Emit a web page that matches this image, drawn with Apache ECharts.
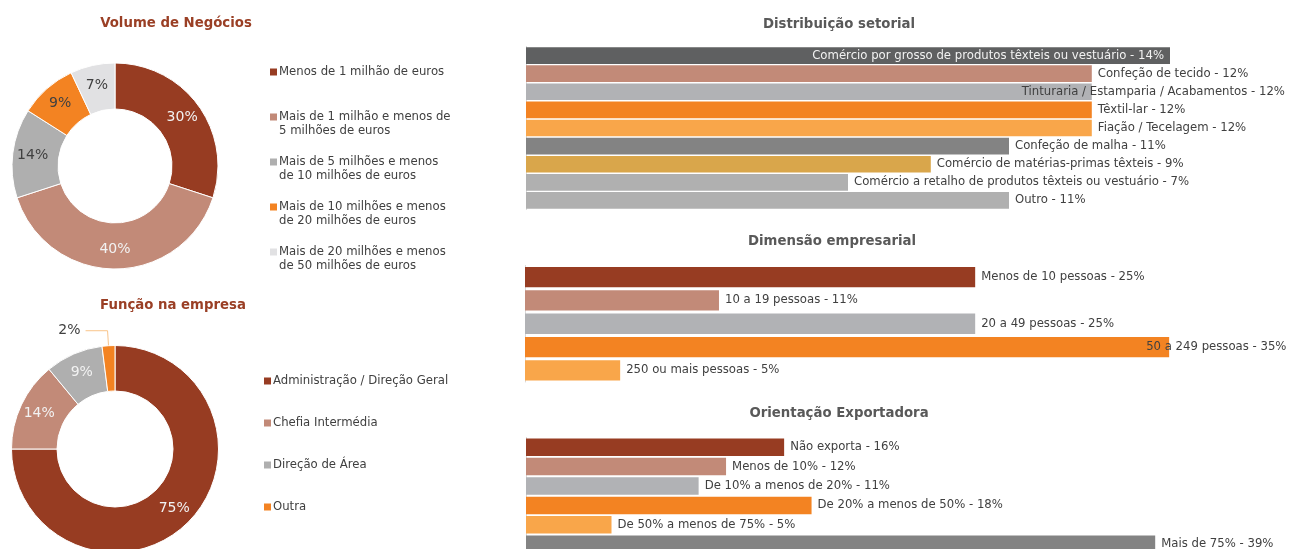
<!DOCTYPE html>
<html><head><meta charset="utf-8">
<script src="https://cdn.jsdelivr.net/npm/echarts@6/dist/echarts.min.js"></script>
<style>html,body{margin:0;padding:0;background:#fff}#c{width:1290px;height:549px}</style>
</head><body><div id="c"></div>
<script>
// ---------- DATA ----------
const volumeCategories = ['Menos de 1 milhão de euros', 'Mais de 1 milhão e menos de 5 milhões de euros', 'Mais de 5 milhões e menos de 10 milhões de euros', 'Mais de 10 milhões e menos de 20 milhões de euros', 'Mais de 20 milhões e menos de 50 milhões de euros'];
const volumeLegendLabels = ['Menos de 1 milhão de euros', 'Mais de 1 milhão e menos de\n5 milhões de euros', 'Mais de 5 milhões e menos\nde 10 milhões de euros', 'Mais de 10 milhões e menos\nde 20 milhões de euros', 'Mais de 20 milhões e menos\nde 50 milhões de euros'];
const volumeValues = [30, 40, 14, 9, 7];

const funcaoCategories = ['Administração / Direção Geral', 'Chefia Intermédia', 'Direção de Área', 'Outra'];
const funcaoValues = [75, 14, 9, 2];

const setorCategories = ['Comércio por grosso de produtos têxteis ou vestuário', 'Confeção de tecido', 'Tinturaria / Estamparia / Acabamentos', 'Têxtil-lar', 'Fiação / Tecelagem', 'Confeção de malha', 'Comércio de matérias-primas têxteis', 'Comércio a retalho de produtos têxteis ou vestuário', 'Outro'];
const setorValues = [14.0, 12.3, 12.3, 12.3, 12.3, 10.5, 8.8, 7.0, 10.5];

const dimensaoCategories = ['Menos de 10 pessoas', '10 a 19 pessoas', '20 a 49 pessoas', '50 a 249 pessoas', '250 ou mais pessoas'];
const dimensaoValues = [24.6, 10.6, 24.6, 35.2, 5.2];

const exportCategories = ['Não exporta', 'Menos de 10%', 'De 10% a menos de 20%', 'De 20% a menos de 50%', 'De 50% a menos de 75%', 'Mais de 75%'];
const exportValues = [16.0, 12.4, 10.7, 17.7, 5.3, 39.0];

// ---------- STYLE ----------
const FONT = 'Verdana, "DejaVu Sans", sans-serif';
const TXT = '#404040';
const FS = 11.7;
const C = {
  brown: '#973C22', rose: '#C28A78', grey: '#B1B2B5', orange: '#F38322', lightOrange: '#F9A64A',
  lightGrey: '#E1E1E3', dark: '#5F6061', mid: '#838383', gold: '#D9A64B', grey2: '#B0B0B0', pieGrey: '#AFAFAF'
};
const volumeColors = [C.brown, C.rose, C.pieGrey, C.orange, C.lightGrey];
const volumeLabelColors = ['#F2F2F2', '#F2F2F2', TXT, TXT, TXT];
const funcaoColors = [C.brown, C.rose, C.pieGrey, C.orange];
const setorColors = [C.dark, C.rose, C.grey, C.orange, C.lightOrange, C.mid, C.gold, C.grey2, C.grey2];
const dimensaoColors = [C.brown, C.rose, C.grey, C.orange, C.lightOrange];
const exportColors = [C.brown, C.rose, C.grey, C.orange, C.lightOrange, C.mid];

const chart = echarts.init(document.getElementById('c'), null, {renderer: 'canvas'});

function titleAt(text, x, y, color) {
  return {text, left: x, top: y, textAlign: 'center', padding: 0,
    textStyle: {fontFamily: FONT, fontSize: 13.3, fontWeight: 'bold', color}};
}

const twoLineIcon = 'path://M0,0L7,0L7,7L0,7Z M0,21L0.01,21';
function legendAt(name, label, x, y) {
  const multi = label.indexOf('\n') >= 0;
  return {
    data: [name], left: x, top: y - 6, orient: 'vertical', padding: 0,
    itemWidth: 7, itemHeight: multi ? 21 : 7, icon: multi ? twoLineIcon : 'rect',
    itemStyle: {borderWidth: 0}, selectedMode: false,
    formatter: () => label,
    textStyle: {fontFamily: FONT, fontSize: FS, color: TXT, lineHeight: 14, padding: [0, 0, 0, -3]}
  };
}

const volumeLegendTops = [71, 116, 161, 206, 251];
const funcaoLegendTops = [380, 422, 464, 506];
const legends = [];
volumeCategories.forEach((n, i) => legends.push(legendAt(n, volumeLegendLabels[i], 270, volumeLegendTops[i])));
funcaoCategories.forEach((n, i) => legends.push(legendAt(n, n, 264, funcaoLegendTops[i])));

function barLabel(name, v) { return name + ' - ' + Math.round(v) + '%'; }

function barSeries(cats, vals, colors, idx, overrides, gap) {
  return {
    type: 'bar', xAxisIndex: idx, yAxisIndex: idx, barCategoryGap: gap,
    data: vals.map((v, i) => {
      const d = {value: v, name: cats[i], itemStyle: {color: colors[i]}};
      if (overrides[i]) d.label = overrides[i];
      return d;
    }),
    label: {show: true, position: 'right', distance: 6, fontFamily: FONT, fontSize: FS, color: TXT,
      formatter: p => barLabel(p.name, p.value)},
    silent: true, animation: false
  };
}

const grids = [
  {left: 526, top: 46.5, width: 736, height: 163, outerBoundsMode: 'none'},
  {left: 525, top: 265.5, width: 732, height: 116.5, outerBoundsMode: 'none'},
  {left: 526, top: 437.5, width: 726, height: 116.4, outerBoundsMode: 'none'}
];
const xMax = [16, 40, 45];
const yCats = [setorCategories, dimensaoCategories, exportCategories];

const option = {
  animation: false,
  backgroundColor: '#fff',
  title: [
    titleAt('Volume de Negócios', 176, 17, '#9A3F25'),
    titleAt('Função na empresa', 173, 299, '#9A3F25'),
    titleAt('Distribuição setorial', 839, 18, '#595959'),
    titleAt('Dimensão empresarial', 832, 235, '#595959'),
    titleAt('Orientação Exportadora', 839, 407, '#595959')
  ],
  legend: legends,
  grid: grids,
  xAxis: grids.map((g, i) => ({type: 'value', gridIndex: i, min: 0, max: xMax[i], show: false})),
  yAxis: grids.map((g, i) => ({type: 'category', gridIndex: i, inverse: true, data: yCats[i],
    axisLine: {show: true, lineStyle: {color: '#D9D9D9', width: 1}}, axisTick: {show: false}, axisLabel: {show: false},
    splitLine: {show: false}})),
  series: [
    {
      type: 'pie', center: [115, 166], radius: [57, 103], startAngle: 90, clockwise: true,
      avoidLabelOverlap: false, silent: true,
      itemStyle: {borderColor: '#fff', borderWidth: 1},
      label: {show: true, position: 'inside', fontFamily: FONT, fontSize: 14, formatter: '{c}%'},
      data: volumeCategories.map((n, i) => ({name: n, value: volumeValues[i],
        itemStyle: {color: volumeColors[i]}, label: {color: volumeLabelColors[i]}}))
    },
    {
      type: 'pie', center: [115, 449], radius: [58, 103.5], startAngle: 90, clockwise: true,
      avoidLabelOverlap: false, silent: true,
      itemStyle: {borderColor: '#fff', borderWidth: 1},
      label: {show: true, position: 'inside', fontFamily: FONT, fontSize: 14, color: '#F2F2F2', formatter: '{c}%'},
      data: funcaoCategories.map((n, i) => {
        const d = {name: n, value: funcaoValues[i], itemStyle: {color: funcaoColors[i]}};
        if (i === 3) {
          d.label = {position: 'outside', color: TXT};
          d.labelLine = {show: true, length: 15, length2: 22, lineStyle: {color: '#F9C48A', width: 1}};
        }
        return d;
      })
    },
    barSeries(setorCategories, setorValues, setorColors, 0,
      {0: {position: 'insideRight', color: '#F2F2F2', distance: 6}, 2: {offset: [-76, 0]}}, '8%'),
    barSeries(dimensaoCategories, dimensaoValues, dimensaoColors, 1, {3: {offset: [-29, 0]}}, '13%'),
    barSeries(exportCategories, exportValues, exportColors, 2, {}, '10%')
  ]
};
chart.setOption(option);
</script>
</body></html>
